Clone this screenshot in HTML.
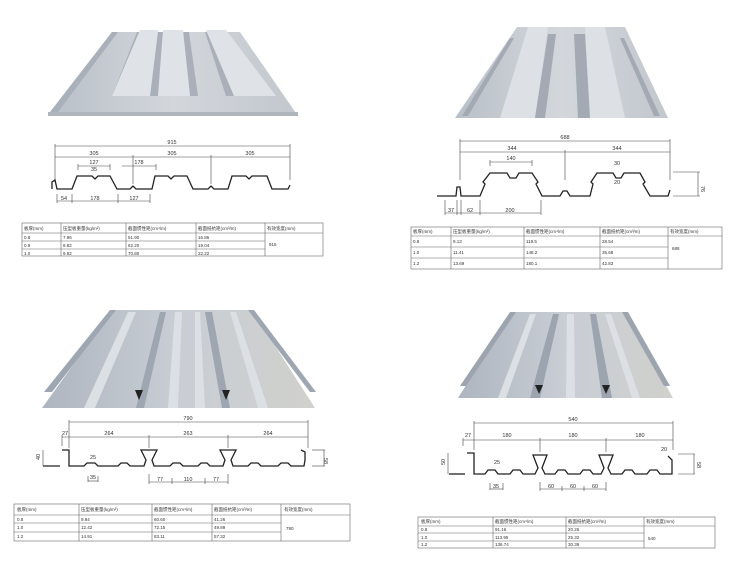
<!DOCTYPE html>
<html><head><meta charset="utf-8"><style>
html,body{margin:0;padding:0;background:#fff;}
svg{display:block;}
text{font-family:"Liberation Sans","Noto Sans CJK SC",sans-serif;fill:#333;}
</style></head><body>
<svg width="750" height="567" viewBox="0 0 750 567" xmlns="http://www.w3.org/2000/svg">
<defs>
<linearGradient id="g1" x1="0" y1="0" x2="1" y2="0">
<stop offset="0" stop-color="#b9bfc7"/><stop offset="0.5" stop-color="#d3d7dc"/><stop offset="1" stop-color="#c2c7cd"/>
</linearGradient>
<linearGradient id="g2" x1="0" y1="0" x2="1" y2="0">
<stop offset="0" stop-color="#aeb5bf"/><stop offset="0.5" stop-color="#c9ced5"/><stop offset="1" stop-color="#d0d0cc"/>
</linearGradient>
</defs>

<!-- Panel 1 -->
<polygon points="112,32 240,32 298,116 48,116" fill="url(#g1)"/>
<g fill="#a9b0ba">
<polygon points="112,32 118,32 58,112 50,112"/>
<polygon points="137,32 144,32 120,96 112,96"/>
<polygon points="158,32 163,32 158,96 150,96"/>
<polygon points="183,32 189,32 198,96 190,96"/>
<polygon points="205,32 211,32 234,96 226,96"/>
</g>
<g fill="#dfe2e6">
<polygon points="140,30 158,30 150,96 112,96"/>
<polygon points="163,30 183,30 190,96 158,96"/>
<polygon points="206,30 226,30 276,96 234,96"/>
</g>
<polygon points="48,112 298,112 298,116 48,116" fill="#b0b6be"/>

<!-- Panel 2 -->
<polygon points="517,27 625,27 668,118 455,118" fill="url(#g1)"/>
<g fill="#dde0e4">
<polygon points="528,27 548,27 535,118 500,118"/>
<polygon points="585,27 605,27 625,118 590,118"/>
</g>
<g fill="#a3aab4">
<polygon points="548,34 556,34 545,118 535,118"/>
<polygon points="574,34 585,34 590,118 578,118"/>
<polygon points="510,38 514,38 468,116 462,116"/>
<polygon points="620,38 624,38 660,116 654,116"/>
</g>

<!-- Panel 3 -->
<polygon points="113,310 252,310 315,408 42,408" fill="url(#g2)"/>
<g fill="#9ea6b1">
<polygon points="110,310 116,310 52,392 44,392"/>
<polygon points="160,312 166,312 144,408 136,408"/>
<polygon points="205,312 212,312 230,408 222,408"/>
<polygon points="248,310 254,310 316,392 310,392"/>
</g>
<g fill="#dcdfe3">
<polygon points="128,312 136,312 95,408 84,408"/>
<polygon points="175,312 182,312 178,408 168,408"/>
<polygon points="195,312 200,312 205,408 195,408"/>
<polygon points="230,312 236,312 268,408 258,408"/>
</g>
<polygon points="135,390 143,390 139,400" fill="#222"/>
<polygon points="222,390 230,390 226,400" fill="#222"/>

<!-- Panel 4 -->
<polygon points="512,312 625,312 673,398 458,398" fill="url(#g2)"/>
<g fill="#9ca4af">
<polygon points="510,312 516,312 466,386 460,386"/>
<polygon points="553,314 559,314 540,398 530,398"/>
<polygon points="590,314 596,314 612,398 602,398"/>
<polygon points="622,312 628,312 670,386 664,386"/>
</g>
<g fill="#dcdfe3">
<polygon points="530,314 536,314 506,398 498,398"/>
<polygon points="567,314 574,314 575,398 566,398"/>
<polygon points="605,314 611,314 640,398 632,398"/>
</g>
<polygon points="535,385 543,385 539,394" fill="#222"/>
<polygon points="602,385 610,385 606,394" fill="#222"/>

<g stroke="#444" stroke-width="0.6" fill="none">
<!-- Profile 1 dims -->
<line x1="55" y1="146" x2="290" y2="146"/><line x1="55" y1="157" x2="290" y2="157"/>
<line x1="55" y1="144" x2="55" y2="180"/><line x1="290" y1="144" x2="290" y2="180"/>
<line x1="133" y1="155" x2="133" y2="184"/><line x1="211" y1="155" x2="211" y2="184"/>
<line x1="78" y1="166" x2="110" y2="166"/><line x1="122" y1="166" x2="156" y2="166"/>
<line x1="78" y1="164" x2="78" y2="170"/><line x1="110" y1="164" x2="110" y2="170"/><line x1="156" y1="164" x2="156" y2="170"/>
<line x1="57" y1="201" x2="150" y2="201"/><line x1="57" y1="194" x2="57" y2="203"/><line x1="72" y1="194" x2="72" y2="203"/><line x1="118" y1="194" x2="118" y2="203"/><line x1="150" y1="194" x2="150" y2="203"/>
<!-- Profile 2 dims -->
<line x1="460" y1="141" x2="670" y2="141"/><line x1="460" y1="152" x2="670" y2="152"/>
<line x1="460" y1="139" x2="460" y2="180"/><line x1="670" y1="139" x2="670" y2="180"/><line x1="565" y1="150" x2="565" y2="180"/>
<line x1="490" y1="162" x2="532" y2="162"/><line x1="490" y1="160" x2="490" y2="166"/><line x1="532" y1="160" x2="532" y2="166"/>
<line x1="445" y1="213" x2="541" y2="213"/><line x1="445" y1="200" x2="445" y2="215"/><line x1="457" y1="200" x2="457" y2="215"/><line x1="461" y1="200" x2="461" y2="215"/><line x1="480" y1="200" x2="480" y2="215"/><line x1="541" y1="200" x2="541" y2="215"/>
<line x1="673" y1="172" x2="700" y2="172"/><line x1="698" y1="172" x2="698" y2="196"/><line x1="673" y1="196" x2="700" y2="196"/>
<!-- Profile 3 dims -->
<line x1="69" y1="422" x2="308" y2="422"/><line x1="62" y1="437" x2="308" y2="437"/>
<line x1="69" y1="420" x2="69" y2="448"/><line x1="308" y1="420" x2="308" y2="448"/><line x1="62" y1="435" x2="62" y2="446"/>
<line x1="149" y1="435" x2="149" y2="448"/><line x1="228" y1="435" x2="228" y2="448"/>
<line x1="149" y1="482" x2="228" y2="482"/><line x1="149" y1="474" x2="149" y2="484"/><line x1="172" y1="478" x2="172" y2="484"/><line x1="205" y1="478" x2="205" y2="484"/><line x1="228" y1="474" x2="228" y2="484"/>
<line x1="88" y1="476" x2="88" y2="482"/><line x1="98" y1="476" x2="98" y2="482"/><line x1="88" y1="481" x2="98" y2="481"/>
<line x1="43" y1="450" x2="43" y2="466"/><line x1="312" y1="450" x2="325" y2="450"/><line x1="312" y1="466" x2="325" y2="466"/><line x1="324" y1="450" x2="324" y2="466"/>
<!-- Profile 4 dims -->
<line x1="474" y1="423" x2="673" y2="423"/><line x1="463" y1="440" x2="673" y2="440"/>
<line x1="474" y1="421" x2="474" y2="450"/><line x1="673" y1="421" x2="673" y2="450"/><line x1="463" y1="438" x2="463" y2="446"/>
<line x1="540" y1="438" x2="540" y2="452"/><line x1="606" y1="438" x2="606" y2="452"/>
<line x1="540" y1="489" x2="606" y2="489"/><line x1="540" y1="482" x2="540" y2="491"/><line x1="562" y1="486" x2="562" y2="491"/><line x1="584" y1="486" x2="584" y2="491"/><line x1="606" y1="482" x2="606" y2="491"/>
<line x1="490" y1="483" x2="490" y2="490"/><line x1="503" y1="483" x2="503" y2="490"/><line x1="490" y1="489" x2="503" y2="489"/>
<line x1="448" y1="453" x2="448" y2="474"/><line x1="678" y1="454" x2="695" y2="454"/><line x1="678" y1="474" x2="695" y2="474"/><line x1="694" y1="454" x2="694" y2="474"/>
</g>

<g stroke="#222" stroke-width="1.3" fill="none">
<!-- Profile 1 -->
<polyline points="52,189 52,182 55,180 57,189 72,189 77,176 92,176 95,179 98,176 110,176 117,189 130,189 133,186 136,189 152,189 155,176 168,176 171,179 174,176 187,176 193,189 208,189 211,186 214,189 228,189 232,176 246,176 249,179 252,176 267,176 272,189 288,189 290,185"/>
<!-- Profile 2 -->
<polyline points="437,196 456,196 457,187 460,187 461,196 480,196 485,184 483,182 490,173 507,173 510,178 516,178 519,173 532,173 538,182 536,184 542,196 560,196 563,191 567,191 570,196 590,196 593,184 591,182 597,173 613,173 616,178 621,178 624,173 640,173 645,182 643,184 650,196 668,196 670,190"/>
<!-- Profile 3 -->
<polyline points="43,466 60,466"/>
<polyline points="62,450 69,450 69,466 84,466 87,463 95,463 98,466 118,466 121,463 127,463 130,466 144,466 146,460 141,450 157,450 152,460 154,466 170,466 173,463 180,463 183,466 198,466 201,463 207,463 210,466 223,466 225,460 220,450 236,450 231,460 233,466 248,466 251,463 258,463 261,466 278,466 281,463 288,463 291,466 304,466 305,460 305,452 301,450"/>
<!-- Profile 4 -->
<polyline points="449,474 465,474"/>
<polyline points="467,453 474,453 474,474 485,474 488,470 495,470 498,474 510,474 513,470 520,470 523,474 535,474 538,468 533,455 547,455 542,468 545,474 555,474 558,470 565,470 568,474 580,474 583,470 590,470 593,474 601,474 604,468 599,455 613,455 608,468 611,474 622,474 625,470 632,470 635,474 647,474 650,470 657,470 660,474 672,474 672,460 668,456"/>
</g>

<g font-size="5.5" text-anchor="middle">
<text x="172" y="144">915</text><text x="94" y="155">305</text><text x="172" y="155">305</text><text x="250" y="155">305</text>
<text x="94" y="164">127</text><text x="139" y="164">178</text><text x="94" y="171">35</text>
<text x="64" y="200">54</text><text x="95" y="200">178</text><text x="134" y="200">127</text>
<text x="565" y="139">688</text><text x="512" y="150">344</text><text x="617" y="150">344</text>
<text x="511" y="160">140</text><text x="617" y="165">30</text><text x="617" y="184">20</text>
<text x="451" y="212">37</text><text x="470" y="212">62</text><text x="510" y="212">200</text>
<text x="188" y="420">790</text><text x="65" y="435">27</text><text x="109" y="435">264</text><text x="188" y="435">263</text><text x="268" y="435">264</text>
<text x="93" y="459">25</text><text x="93" y="479">35</text><text x="160" y="481">77</text><text x="188" y="481">110</text><text x="216" y="481">77</text>
<text x="573" y="421">540</text><text x="468" y="437">27</text><text x="507" y="437">180</text><text x="573" y="437">180</text><text x="640" y="437">180</text>
<text x="497" y="464">25</text><text x="496" y="488">35</text><text x="551" y="488">60</text><text x="573" y="488">60</text><text x="595" y="488">60</text>
<text x="664" y="451">20</text>
</g>
<g font-size="5.5">
<text x="327" y="461" transform="rotate(90 327 458)">58</text>
<text x="697" y="462" transform="rotate(90 697 462)">58</text>
<text x="445" y="465" transform="rotate(-90 445 465)">50</text>
<text x="40" y="460" transform="rotate(-90 40 460)">40</text>
<text x="701" y="186" transform="rotate(90 701 186)">76</text>
</g>

<!-- Tables -->
<g stroke="#666" stroke-width="0.6" fill="none">
<rect x="22" y="223" width="301" height="33"/>
<line x1="22" y1="233" x2="323" y2="233"/><line x1="22" y1="241" x2="265" y2="241"/><line x1="22" y1="249" x2="265" y2="249"/>
<line x1="61" y1="223" x2="61" y2="256"/><line x1="126" y1="223" x2="126" y2="256"/><line x1="196" y1="223" x2="196" y2="256"/><line x1="265" y1="223" x2="265" y2="256"/>

<rect x="411" y="227" width="311" height="42"/>
<line x1="411" y1="236" x2="722" y2="236"/><line x1="411" y1="247" x2="668" y2="247"/><line x1="411" y1="258" x2="668" y2="258"/>
<line x1="451" y1="227" x2="451" y2="269"/><line x1="524" y1="227" x2="524" y2="269"/><line x1="600" y1="227" x2="600" y2="269"/><line x1="668" y1="227" x2="668" y2="269"/>

<rect x="14" y="504" width="336" height="37"/>
<line x1="14" y1="515" x2="350" y2="515"/><line x1="14" y1="523" x2="281" y2="523"/><line x1="14" y1="532" x2="281" y2="532"/>
<line x1="79" y1="504" x2="79" y2="541"/><line x1="152" y1="504" x2="152" y2="541"/><line x1="212" y1="504" x2="212" y2="541"/><line x1="281" y1="504" x2="281" y2="541"/>

<rect x="418" y="517" width="297" height="31"/>
<line x1="418" y1="526" x2="715" y2="526"/><line x1="418" y1="533" x2="644" y2="533"/><line x1="418" y1="541" x2="644" y2="541"/>
<line x1="493" y1="517" x2="493" y2="548"/><line x1="566" y1="517" x2="566" y2="548"/><line x1="644" y1="517" x2="644" y2="548"/>
</g>
<g font-size="4.5">
<text x="24" y="230">板厚(mm)</text><text x="63" y="230">压型板重量(kg/m²)</text><text x="128" y="230">截面惯性矩(cm⁴/m)</text><text x="198" y="230">截面抵抗矩(cm³/m)</text><text x="267" y="230">有效宽度(mm)</text>
<text x="24" y="239">0.8</text><text x="63" y="239">7.96</text><text x="128" y="239">51.90</text><text x="198" y="239">16.86</text>
<text x="24" y="247">0.9</text><text x="63" y="247">8.82</text><text x="128" y="247">62.20</text><text x="198" y="247">19.04</text>
<text x="24" y="255">1.0</text><text x="63" y="255">9.92</text><text x="128" y="255">70.80</text><text x="198" y="255">22.22</text><text x="269" y="246">915</text>

<text x="413" y="233">板厚(mm)</text><text x="453" y="233">压型板重量(kg/m²)</text><text x="526" y="233">截面惯性矩(cm⁴/m)</text><text x="602" y="233">截面抵抗矩(cm³/m)</text><text x="670" y="233">有效宽度(mm)</text>
<text x="413" y="243">0.8</text><text x="453" y="243">9.13</text><text x="526" y="243">119.5</text><text x="602" y="243">28.54</text>
<text x="413" y="254">1.0</text><text x="453" y="254">11.41</text><text x="526" y="254">148.2</text><text x="602" y="254">35.68</text>
<text x="413" y="265">1.2</text><text x="453" y="265">13.69</text><text x="526" y="265">180.1</text><text x="602" y="265">42.83</text><text x="672" y="250">688</text>

<text x="17" y="511">板厚(mm)</text><text x="81" y="511">压型板重量(kg/m²)</text><text x="154" y="511">截面惯性矩(cm⁴/m)</text><text x="214" y="511">截面抵抗矩(cm³/m)</text><text x="284" y="511">有效宽度(mm)</text>
<text x="17" y="521">0.8</text><text x="81" y="521">9.94</text><text x="154" y="521">60.60</text><text x="214" y="521">41.26</text>
<text x="17" y="529">1.0</text><text x="81" y="529">12.42</text><text x="154" y="529">72.15</text><text x="214" y="529">49.89</text>
<text x="17" y="538">1.2</text><text x="81" y="538">14.91</text><text x="154" y="538">83.11</text><text x="214" y="538">57.32</text><text x="286" y="530">790</text>

<text x="421" y="523">板厚(mm)</text><text x="495" y="523">截面惯性矩(cm⁴/m)</text><text x="568" y="523">截面抵抗矩(cm³/m)</text><text x="646" y="523">有效宽度(mm)</text>
<text x="421" y="531">0.8</text><text x="495" y="531">91.16</text><text x="568" y="531">20.26</text>
<text x="421" y="539">1.0</text><text x="495" y="539">113.95</text><text x="568" y="539">25.32</text>
<text x="421" y="546">1.2</text><text x="495" y="546">136.74</text><text x="568" y="546">30.39</text><text x="648" y="540">540</text>
</g>
</svg>
</body></html>
